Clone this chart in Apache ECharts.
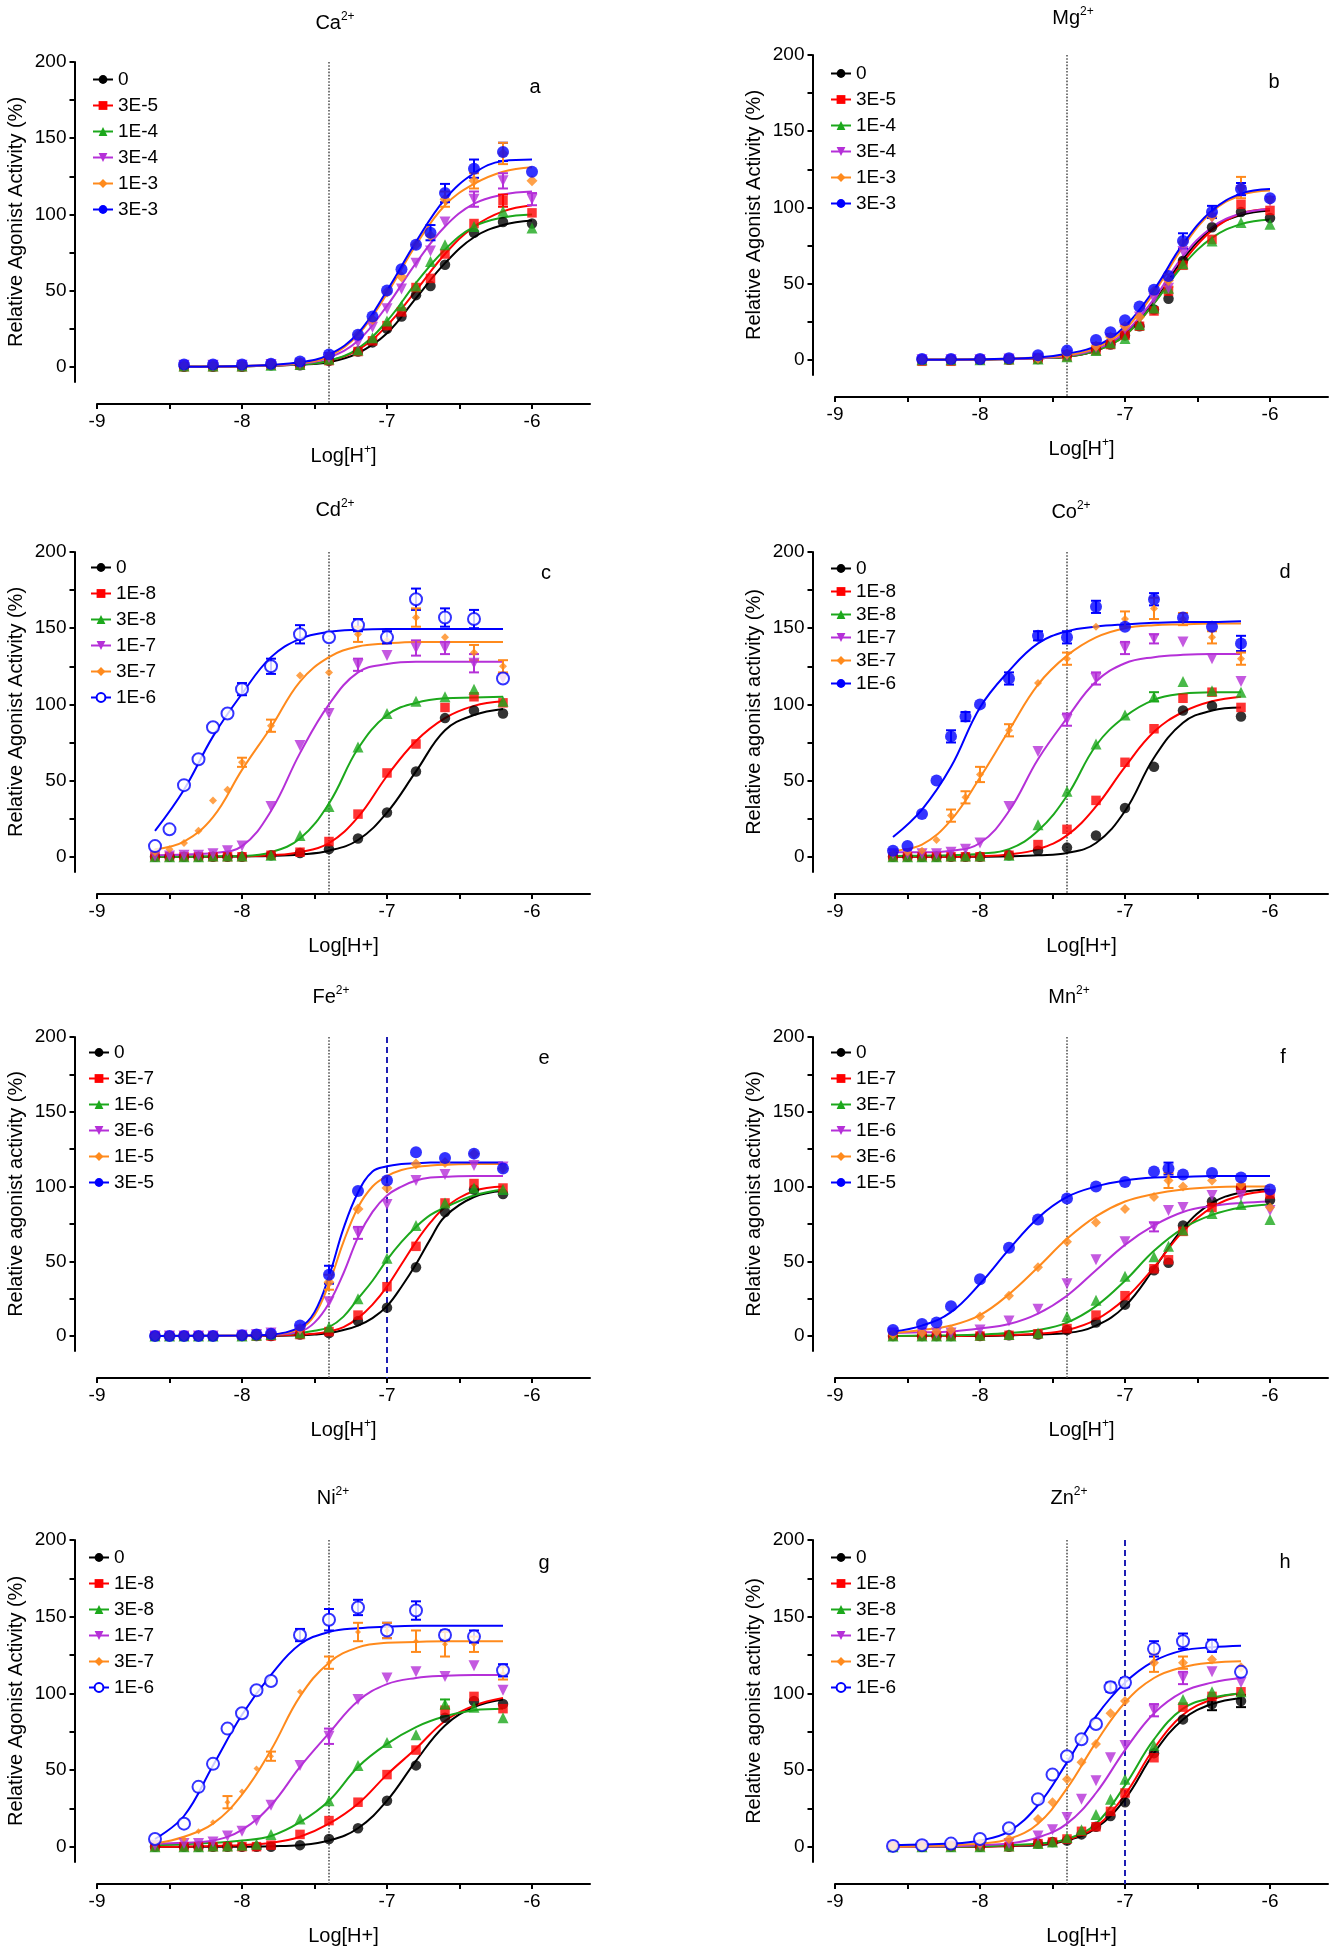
<!DOCTYPE html>
<html><head><meta charset="utf-8">
<script src="https://cdn.jsdelivr.net/npm/echarts@6/dist/echarts.min.js"></script>
<style>html,body{margin:0;padding:0;background:#fff}#c{width:1335px;height:1950px}</style>
</head><body><div id="c"></div>
<script>
// ---------------- DATA ----------------
// Panel a: Ca2+
const caConc = ['0','3E-5','1E-4','3E-4','1E-3','3E-3'];
const caX = [-8.4,-8.2,-8.0,-7.8,-7.6,-7.4,-7.2,-7.1,-7.0,-6.9,-6.8,-6.7,-6.6,-6.4,-6.2,-6.0];
const caPts = [
 [0,0,0,1,1,4,10,16,25,33,47,53,67,88,95,94],
 [0,0,0,1,1,4,10,17,27,36,52,58,74,94,109,101],
 [0.5,0.5,0.5,1,1.5,5,11,19,30,40,53,69,80,92,102,91],
 [1,1,1,1.5,2,6,16,26,38,51,68,76,95,110,122,110],
 [1,1,1,2,3,7,21,31,49,59,80,86,110,122,140,122],
 [1.5,1.5,1.5,2,3.5,8,21,33,50,64,80,88,114,130,141,128]
];
const caErr = [[5,-6.6,6],[5,-6.4,6],[5,-6.2,6],[5,-6.7,5],[4,-6.2,7],[4,-6.6,5],[4,-6.4,5],[3,-6.2,5],[3,-6.4,5],[3,-6.0,4],[1,-6.2,4]];
const caFitX = [-8.4,-8.0,-7.6,-7.4,-7.2,-7.0,-6.8,-6.6,-6.4,-6.2,-6.0];
const caFit = [
 [0,0.3,1.5,3,9,22,45,68,85,93,96],
 [0,0.3,1.5,4,11,27,50,74,92,102,106],
 [0,0.3,1.5,4,12,30,55,77,92,98,100],
 [0,0.4,2,6,17,40,68,92,107,113,115],
 [0,0.5,2.5,7,21,48,80,106,120,128,131],
 [0,0.5,3,8,22,50,82,110,127,135,136]
];
// Panel b: Mg2+
const mgConc = ['0','3E-5','1E-4','3E-4','1E-3','3E-3'];
const mgX = [-8.4,-8.2,-8.0,-7.8,-7.6,-7.4,-7.2,-7.1,-7.0,-6.9,-6.8,-6.7,-6.6,-6.4,-6.2,-6.0];
const mgPts = [
 [0,0,0,0,0.5,3,7,10,16,22,33,40,65,87,97,93],
 [-1,-1,0,0,0.5,2,6,10,16,22,32,45,62,79,102,98],
 [0,0,0,0.5,0.5,2,6,11,14,23,34,47,63,78,90,89],
 [0,0,0,0.5,1,3,8,14,20,28,40,47,71,93,111,104],
 [0,0,0,0.5,1,4,9,15,22,28,45,52,77,94,113,105],
 [0.5,0.5,0.5,1,3,6,13,18,26,35,46,55,78,97,112,106]
];
const mgErr = [[4,-6.2,7],[5,-6.6,5],[5,-6.4,4],[4,-6.7,4],[5,-6.2,4]];
const mgFitX = [-8.4,-8.0,-7.6,-7.4,-7.2,-7.0,-6.8,-6.6,-6.4,-6.2,-6.0];
const mgFit = [
 [0,0.2,1,2,6,17,38,66,86,95,98],
 [0,0.2,1,2,6,16,37,64,85,96,99],
 [0,0.2,1,2,6,16,37,62,80,89,92],
 [0,0.2,1,2.5,7,18,40,68,87,96,99],
 [0,0.3,1.5,3,8,20,44,74,97,108,111],
 [0,0.3,1.5,4,9,22,46,76,98,109,112]
];
// Panel c: Cd2+
const cdConc = ['0','1E-8','3E-8','1E-7','3E-7','1E-6'];
const cdX = [-8.6,-8.5,-8.4,-8.3,-8.2,-8.1,-8.0,-7.8,-7.6,-7.4,-7.2,-7.0,-6.8,-6.6,-6.4,-6.2];
const cdPts = [
 [0,0,0,0,0,0,0,1,2.5,5,12,29,56,91,96,94],
 [0,0,0,0,0,0,0,1,3,10,28,55,74,98,105,101],
 [0,0,0,0,0.5,0.5,0.5,1,14,33,72,94,102,105,110,102],
 [0.5,0.5,1,1,2,4,7,33,73,94,126,132,137,137,127,117],
 [3,5,9,17,37,44,62,86,119,121,146,142,157,144,134,125],
 [7,18,47,64,85,94,110,125,146,144,152,144,169,157,156,117]
];
const cdErr = [[5,-6.8,7],[5,-6.6,6],[5,-6.4,6],[5,-7.6,6],[5,-7.8,5],[5,-7.2,4],[5,-8.0,4],[5,-7.0,4],[4,-6.8,6],[4,-6.4,5],[4,-7.2,5],[4,-7.8,4],[4,-8.0,3],[4,-6.2,4],[3,-6.8,5],[3,-6.6,4],[3,-6.4,6],[3,-7.2,4]];
const cdFitX = [-8.6,-8.4,-8.2,-8.0,-7.8,-7.6,-7.4,-7.2,-7.0,-6.8,-6.6,-6.4,-6.2];
const cdFit = [
 [0,0,0,0.2,0.5,1.5,4,11,29,56,83,93,97],
 [0,0,0,0.3,1,3,9,26,53,76,91,99,102],
 [0,0,0.2,0.5,3,12,35,71,93,101,104,104.5,105],
 [1,1.5,2.5,7,30,68,100,121,126.5,128,128,128,128],
 [5,10,26,57,85,115,131,138,140,141,141,141,141],
 [17,44,79,107,131,143,147.5,149,149.5,149.5,149.5,149.5,149.5]
];
// Panel d: Co2+
const coConc = ['0','1E-8','3E-8','1E-7','3E-7','1E-6'];
const coX = [-8.6,-8.5,-8.4,-8.3,-8.2,-8.1,-8.0,-7.8,-7.6,-7.4,-7.2,-7.0,-6.8,-6.6,-6.4,-6.2];
const coPts = [
 [0,0,0,0,0,0,0,1,4,6,14,32,59,96,99,92],
 [0,0,0,0,0,0,0,1,8,18,37,62,84,104,108,98],
 [0,0,0,0,0.5,0.5,0.5,1,21,43,74,93,105,115,109,108],
 [2,2,2,2,3,5,9,33,69,90,117,137,143,141,130,115],
 [2,3,4,11,27,39,54,83,114,130,151,156,163,156,144,130],
 [4,7,28,50,79,92,100,117,145,144,164,151,169,157,151,140]
];
const coErr = [[5,-6.8,4],[5,-7.2,4],[5,-6.2,5],[5,-7.8,4],[5,-8.2,4],[5,-8.1,3],[5,-7.6,3],[5,-7.4,4],[4,-7.0,5],[4,-6.8,7],[4,-7.8,4],[4,-8.0,5],[4,-8.1,4],[4,-8.2,4],[4,-7.4,4],[4,-6.4,4],[4,-6.2,4],[4,-6.6,4],[3,-7.2,4],[3,-7.0,4],[3,-6.8,3],[3,-7.4,4],[2,-6.8,3]];
const coFitX = [-8.6,-8.4,-8.2,-8.0,-7.8,-7.6,-7.4,-7.2,-7.0,-6.8,-6.6,-6.4,-6.2];
const coFit = [
 [0,0,0,0,0.3,1,2.5,9,30,65,88,96,98],
 [0,0,0,0.3,1.5,5,14,33,59,82,95,102,105],
 [0.5,0.7,1,2,5,17,40,73,92,103,107,108,108],
 [3,3,4,9,30,64,91,115,127,131,132.5,133,133],
 [4,8,24,52,83,113,132,144,150,152,152.5,153,153],
 [13,31,59,98,122,140,148,151,152.5,153.5,154,154,154.5]
];
// Panel e: Fe2+
const feConc = ['0','3E-7','1E-6','3E-6','1E-5','3E-5'];
const feX = [-8.6,-8.5,-8.4,-8.3,-8.2,-8.0,-7.9,-7.8,-7.6,-7.4,-7.2,-7.0,-6.8,-6.6,-6.4,-6.2];
const fePts = [
 [0,0,0,0,0,0,0,0,1,2,10,19,46,83,98,95],
 [0,0,0,0,0,0,0,0,1,3,14,33,60,89,102,99],
 [0,0,0,0,0,0,0.5,1,2,6,25,52,74,89,99,98],
 [0,0,0,0,0,0.5,1,2,4,23,69,88,104,108,114,113],
 [0,0,0,0,0,0.5,1,1.5,5,36,85,99,115,116,122,112],
 [0,0,0,0,0,0.5,1,1.5,7,41,97,104,123,119,122,112]
];
const feErr = [[5,-7.4,6],[4,-7.4,5],[3,-7.2,4]];
const feFitX = [-8.6,-8.0,-7.8,-7.6,-7.5,-7.4,-7.3,-7.2,-7.1,-7.0,-6.9,-6.8,-6.7,-6.6,-6.4,-6.2];
const feFit = [
 [0,0,0.2,0.5,1,2,4,7,12,20,33,48,65,80,93,97],
 [0,0,0.3,1,1.5,3,6,12,21,33,48,63,76,86,97,100],
 [0,0.3,0.7,2,3.5,6,13,25,37,51,63,73,81,86,94,98],
 [0,0.3,0.8,3,9,22,42,66,83,94,100,104,106,106.5,107,107],
 [0,0.3,1,5,14,35,63,86,100,107,111,113,114,114.5,115,115],
 [0,0.3,1,6,16,40,72,96,110,113.5,115,115.5,116,116,116,116]
];
// Panel f: Mn2+
const mnConc = ['0','1E-7','3E-7','1E-6','3E-6','1E-5'];
const mnX = [-8.6,-8.4,-8.3,-8.2,-8.0,-7.8,-7.6,-7.4,-7.2,-7.0,-6.8,-6.7,-6.6,-6.4,-6.2,-6.0];
const mnPts = [
 [0,0,0,0,0,0.5,1,4,9,21,44,49,74,90,99,91],
 [0,0,0,0,0,0.5,1.5,5,14,27,45,51,70,86,99,95],
 [0,0,0,0,0.5,1,2,13,24,40,53,60,71,82,88,78],
 [2,2,2,2,4,10,18,35,51,63,73,84,86,94,94,84],
 [1,2,3,4,13,27,46,63,76,85,93,104,100,104,101,86],
 [4,8,9,20,38,59,78,92,100,103,110,112,108,109,106,98]
];
const mnErr = [[5,-6.7,4],[4,-6.7,5],[3,-6.8,3]];
const mnFitX = [-8.6,-8.4,-8.2,-8.0,-7.8,-7.6,-7.4,-7.2,-7.0,-6.8,-6.6,-6.4,-6.2,-6.0];
const mnFit = [
 [0,0,0,0,0.5,1,2,7,20,45,72,89,96,98],
 [0,0,0,0.3,0.7,1.5,4,11,25,46,70,86,94,97],
 [0,0.3,0.5,1,2,4,9,20,37,57,72,81,86,88],
 [2,2.5,3,5,8,15,27,44,61,74,83,87,89,90],
 [2,4,7,14,28,46,65,80,90,95,98,99.5,100,100],
 [3,7,16,35,58,79,93,100,104,106,106.5,107,107,107]
];
// Panel g: Ni2+
const niConc = ['0','1E-8','3E-8','1E-7','3E-7','1E-6'];
const niX = [-8.6,-8.4,-8.3,-8.2,-8.1,-8.0,-7.9,-7.8,-7.6,-7.4,-7.2,-7.0,-6.8,-6.6,-6.4,-6.2];
const niPts = [
 [0,0,0,0,0,0,0,0,1,5,12,30,53,84,95,93],
 [0,0,0,0,0,0,0,1,8,17,29,47,63,89,98,90],
 [0,0,0,0.5,0.5,1,1.5,8,18,30,53,68,73,93,91,84],
 [1,2,2,3,7,10,17,27,53,72,96,110,114,111,118,102],
 [2,5,10,16,29,36,51,59,101,120,140,141,134,132,132,113],
 [5,15,39,54,77,87,102,108,138,148,156,141,154,138,137,115]
];
const niErr = [[5,-7.4,7],[5,-7.2,5],[5,-7.0,5],[5,-6.8,6],[5,-6.4,4],[5,-6.2,4],[5,-7.6,4],[5,-6.6,3],[4,-8.1,4],[4,-7.8,3],[4,-7.4,4],[4,-7.2,6],[4,-7.0,5],[4,-6.8,7],[4,-6.6,8],[4,-6.4,5],[4,-6.2,4],[3,-7.4,5],[2,-6.6,3]];
const niFitX = [-8.6,-8.4,-8.2,-8.0,-7.8,-7.6,-7.4,-7.2,-7.0,-6.8,-6.6,-6.4,-6.2];
const niFit = [
 [0,0,0,0,0.3,1,4,12,30,56,79,91,96],
 [0,0,0.5,1,2.5,6.5,15,28,47,64,82,92,97],
 [1,1.5,2.5,4,7,16,30,52,67,78,85,89,90],
 [2,2.5,4,11,27,52,74,95,106,110,111.5,112,112],
 [2,6.5,15,34,63,98,120,130,133,133.5,134,134,134],
 [5,20,53,86,112,132,140,142.5,143.5,144,144,144,144]
];
// Panel h: Zn2+
const znConc = ['0','1E-8','3E-8','1E-7','3E-7','1E-6'];
const znX = [-8.6,-8.4,-8.2,-8.0,-7.8,-7.6,-7.5,-7.4,-7.3,-7.2,-7.1,-7.0,-6.8,-6.6,-6.4,-6.2];
const znPts = [
 [0,0,0,0,0,2,3,4,8,13,20,29,61,83,93,95],
 [0,0,0,0,0,2,3,5,10,13,23,35,58,91,98,101],
 [0,0,0,0,0.5,2,3,6,11,21,31,44,66,96,101,101],
 [0,0.5,0.5,1,2,7,11,19,31,43,58,66,89,110,114,107],
 [0.5,0.5,1,2,5,18,29,44,55,67,87,95,120,120,122,117],
 [0.5,1,2,5,12,31,47,59,70,80,104,107,129,134,131,114]
];
const znErr = [[5,-6.8,5],[5,-6.6,5],[5,-6.4,4],[5,-7.0,3],[5,-7.1,3],[4,-6.8,6],[4,-6.6,4],[3,-6.8,4],[3,-6.6,4],[0,-6.2,4],[0,-6.4,4]];
const znFitX = [-8.6,-8.2,-8.0,-7.8,-7.6,-7.4,-7.2,-7.0,-6.8,-6.6,-6.4,-6.2];
const znFit = [
 [0,0,0,0.5,1,4,12,31,61,83,93,97],
 [0,0,0,0.5,1.5,4.5,13,34,64,86,96,100],
 [0,0,0.3,1,2,5,15,40,70,90,97,100],
 [0,0.3,1,2,6,15,35,63,87,101,107,110],
 [0,1,2,5,15,38,68,94,110,117,120,121],
 [1,2,4,10,27,55,85,107,121,128,130,131]
];
// axis ticks / labels
const xTickLabels = [-9,-8,-7,-6];
const xTicks = [-9,-8.5,-8,-7.5,-7,-6.5,-6];
const yTickLabels = [0,50,100,150,200];
const yTicks = [0,25,50,75,100,125,150,175,200];
const X_MIN = -9, X_MAX = -5.6, Y_MIN = -10, Y_MAX = 200;
const refDotted = -7.4;  // grey dotted reference line (all panels)
const refDashed = -7.0;  // blue dashed reference line (panels e, h)

// ---------------- STYLE / LAYOUT ----------------
const COLORS = ['#000000','#ff0000','#1ca81c','#b530d8','#ff8a1c','#0000ff'];
const FONT = '"Liberation Sans", Arial, Helvetica, sans-serif';
const symStd = [
 {symbol:'circle', size:10.5},{symbol:'rect', size:9.5},{symbol:'triangle', size:11},
 {symbol:'triangle', size:11, rotate:180},{symbol:'diamond', size:11},{symbol:'circle', size:12}];
function symSet(orangeSize, openBlue){
  return symStd.map((s,i)=>{
    const o = Object.assign({}, s);
    if (i===4) o.size = orangeSize;
    if (i===5 && openBlue) o.symbol = 'emptyCircle';
    return o;
  });
}
const YN_UP = 'Relative Agonist Activity (%)';
const YN_LO = 'Relative agonist activity (%)';
const PANELS = [
 {key:'a', ion:'Ca', conc:caConc, x:caX, pts:caPts, err:caErr, fitX:caFitX, fit:caFit, yName:YN_UP, supH:true, dashed:false, sym:symSet(11,false)},
 {key:'b', ion:'Mg', conc:mgConc, x:mgX, pts:mgPts, err:mgErr, fitX:mgFitX, fit:mgFit, yName:YN_UP, supH:true, dashed:false, sym:symSet(11,false)},
 {key:'c', ion:'Cd', conc:cdConc, x:cdX, pts:cdPts, err:cdErr, fitX:cdFitX, fit:cdFit, yName:YN_UP, supH:false, dashed:false, sym:symSet(8,true)},
 {key:'d', ion:'Co', conc:coConc, x:coX, pts:coPts, err:coErr, fitX:coFitX, fit:coFit, yName:YN_LO, supH:false, dashed:false, sym:symSet(8,false)},
 {key:'e', ion:'Fe', conc:feConc, x:feX, pts:fePts, err:feErr, fitX:feFitX, fit:feFit, yName:YN_LO, supH:true, dashed:true, sym:symSet(11,false)},
 {key:'f', ion:'Mn', conc:mnConc, x:mnX, pts:mnPts, err:mnErr, fitX:mnFitX, fit:mnFit, yName:YN_LO, supH:true, dashed:false, sym:symSet(10,false)},
 {key:'g', ion:'Ni', conc:niConc, x:niX, pts:niPts, err:niErr, fitX:niFitX, fit:niFit, yName:YN_UP, supH:false, dashed:false, sym:symSet(6,true)},
 {key:'h', ion:'Zn', conc:znConc, x:znX, pts:znPts, err:znErr, fitX:znFitX, fit:znFit, yName:YN_LO, supH:false, dashed:true, sym:symSet(10,true)}
];
const LAYOUT = {
 a:{left:97, top:62,  width:493, height:320, xOff:22, title:[335,23],  letter:[535,87],  legend:[92,70],   gap:7},
 b:{left:835,top:55,  width:493, height:320, xOff:22, title:[1073,18], letter:[1274,82], legend:[830,64],   gap:7},
 c:{left:97, top:552, width:493, height:320, xOff:22, title:[335,510], letter:[546,573], legend:[90,558],   gap:7},
 d:{left:835,top:552, width:493, height:320, xOff:22, title:[1071,512],letter:[1285,572],legend:[830,559],  gap:4},
 e:{left:97, top:1037,width:493, height:314, xOff:27, title:[331,997], letter:[544,1058],legend:[88,1043],  gap:7},
 f:{left:835,top:1037,width:493, height:314, xOff:27, title:[1069,997],letter:[1283,1057],legend:[830,1043],gap:7},
 g:{left:97, top:1540,width:493, height:322, xOff:22, title:[333,1498],letter:[544,1563],legend:[88,1548],  gap:7},
 h:{left:835,top:1540,width:493, height:322, xOff:22, title:[1069,1498],letter:[1285,1562],legend:[830,1548],gap:7}
};
const Y_OFF = 22.5;
const TICK_FS = 19, NAME_FS = 20, LEG_FS = 19;

const grids=[], xAxes=[], yAxes=[], series=[], legends=[], titles=[];
PANELS.forEach((p, gi) => {
  const L = LAYOUT[p.key];
  grids.push({left:L.left, top:L.top, width:L.width, height:L.height});
  const pxPerUnit = L.height / (Y_MAX - Y_MIN);
  const yBottom = Y_MIN - L.xOff / pxPerUnit;   // value at the offset x-axis line
  const xName = p.supH ? '{m|Log[H}{s|+}{m|]}' : '{m|Log[H+]}';
  xAxes.push({
    type:'value', gridIndex:gi, min:X_MIN, max:X_MAX, offset:L.xOff,
    axisLine:{show:true, onZero:false, lineStyle:{color:'#000', width:2}},
    axisTick:{show:true, customValues:xTicks, length:5, lineStyle:{color:'#000', width:2}},
    axisLabel:{customValues:xTickLabels, fontSize:TICK_FS, color:'#000', fontFamily:FONT, margin:8},
    splitLine:{show:false},
    name:xName, nameLocation:'middle', nameGap:40,
    nameTextStyle:{color:'#000', fontFamily:FONT,
      rich:{m:{fontSize:NAME_FS, lineHeight:24, color:'#000', fontFamily:FONT},
            s:{fontSize:12, lineHeight:13, verticalAlign:'top', color:'#000', fontFamily:FONT}}}
  });
  yAxes.push({
    type:'value', gridIndex:gi, min:Y_MIN, max:Y_MAX, offset:Y_OFF,
    axisLine:{show:true, onZero:false, lineStyle:{color:'#000', width:2}},
    axisTick:{show:true, customValues:yTicks, length:5, lineStyle:{color:'#000', width:2}},
    axisLabel:{customValues:yTickLabels, fontSize:TICK_FS, color:'#000', fontFamily:FONT, margin:8},
    splitLine:{show:false},
    name:p.yName, nameLocation:'middle', nameGap:48,
    nameTextStyle:{fontSize:NAME_FS, color:'#000', fontFamily:FONT}
  });
  // reference lines (drawn through the axes, extended down to the offset x-axis)
  const refs = [{x:refDotted, color:'#555', type:'dotted', width:1.6}];
  if (p.dashed) refs.push({x:refDashed, color:'#1e1eb4', type:[6,4], width:2});
  refs.forEach(r => series.push({
    type:'line', xAxisIndex:gi, yAxisIndex:gi, data:[[r.x, Y_MAX],[r.x, yBottom]],
    showSymbol:false, symbol:'none', clip:false, silent:true, animation:false, z:1,
    lineStyle:{color:r.color, type:r.type, width:r.width}
  }));
  const names = p.conc.map(c => c + '|' + p.key);
  p.conc.forEach((c, s) => {
    const sy = p.sym[s];
    series.push({
      type:'line', name:names[s], xAxisIndex:gi, yAxisIndex:gi,
      data:p.fitX.map((x,j)=>[x, p.fit[s][j]]),
      smooth:0.4, showSymbol:false,
      symbol:sy.symbol, symbolSize:sy.size, symbolRotate:sy.rotate||0,
      lineStyle:{color:COLORS[s], width:2}, itemStyle:{color:COLORS[s]},
      z:2, silent:true, animation:false
    });
  });
  p.conc.forEach((c, s) => {
    const sy = p.sym[s];
    series.push({
      type:'scatter', name:names[s], xAxisIndex:gi, yAxisIndex:gi,
      data:p.x.map((x,j)=>[x, p.pts[s][j]]),
      symbol:sy.symbol, symbolSize:sy.size, symbolRotate:sy.rotate||0,
      itemStyle:{color:COLORS[s], borderWidth: sy.symbol==='emptyCircle'?2:0, borderColor:COLORS[s]},
      z:4, silent:true, animation:false
    });
  });
  series.push({
    type:'custom', xAxisIndex:gi, yAxisIndex:gi, z:3, silent:true, animation:false,
    data:p.err.map(([s,x,e]) => { const y = p.pts[s][p.x.indexOf(x)]; return [x, y-e, y+e, s]; }),
    renderItem:(params, api) => {
      const x = api.value(0), lo = api.value(1), hi = api.value(2), col = COLORS[api.value(3)];
      const a = api.coord([x, hi]), b = api.coord([x, lo]);
      const w = 5, st = {stroke:col, lineWidth:2};
      return {type:'group', children:[
        {type:'line', shape:{x1:a[0], y1:a[1], x2:b[0], y2:b[1]}, style:st},
        {type:'line', shape:{x1:a[0]-w, y1:a[1], x2:a[0]+w, y2:a[1]}, style:st},
        {type:'line', shape:{x1:b[0]-w, y1:b[1], x2:b[0]+w, y2:b[1]}, style:st}
      ]};
    }
  });
  legends.push({
    data:names, orient:'vertical', left:L.legend[0], top:L.legend[1], padding:0,
    itemGap:L.gap, itemWidth:20, itemHeight:11, selectedMode:false,
    formatter:n => n.split('|')[0],
    textStyle:{fontSize:LEG_FS, lineHeight:19, color:'#000', fontFamily:FONT}
  });
  titles.push({
    text:'{m|' + p.ion + '}{s|2+}', left:L.title[0], top:L.title[1]-12, textAlign:'center', padding:0,
    textStyle:{fontWeight:'normal', rich:{m:{fontSize:NAME_FS, lineHeight:24, color:'#000', fontFamily:FONT, fontWeight:'normal'},
                     s:{fontSize:12, lineHeight:13, verticalAlign:'top', color:'#000', fontFamily:FONT, fontWeight:'normal'}}}
  });
  titles.push({
    text:p.key, left:L.letter[0], top:L.letter[1]-12, textAlign:'center', padding:0,
    textStyle:{fontSize:NAME_FS, fontWeight:'normal', color:'#000', fontFamily:FONT, lineHeight:24}
  });
});

const chart = echarts.init(document.getElementById('c'), null, {renderer:'canvas', width:1335, height:1950});
chart.setOption({
  animation:false, backgroundColor:'#fff',
  textStyle:{fontFamily:FONT},
  title:titles, grid:grids, xAxis:xAxes, yAxis:yAxes, legend:legends, series:series
});
</script></body></html>
